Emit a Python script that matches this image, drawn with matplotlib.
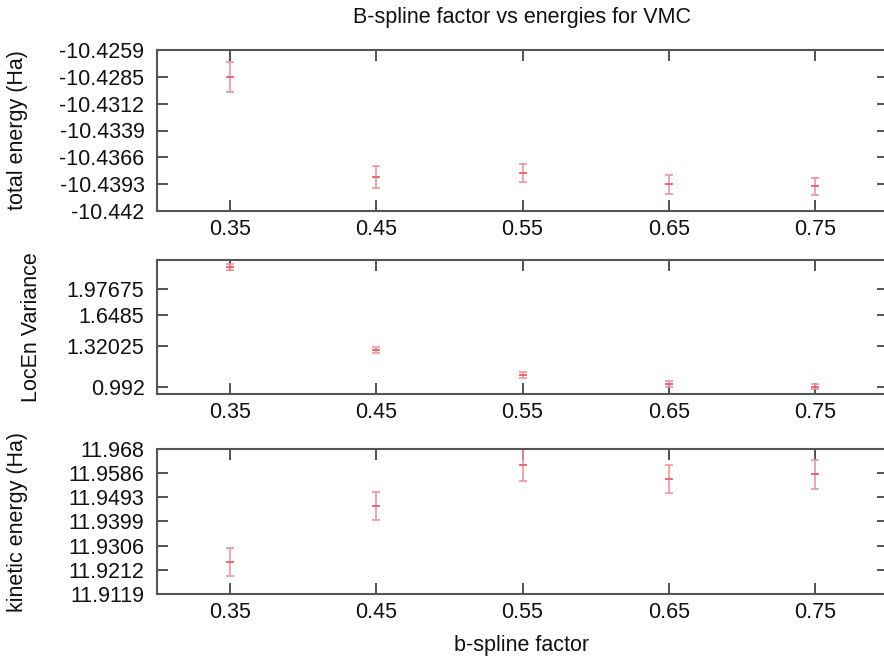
import numpy as np
import matplotlib
matplotlib.use('Agg')
import matplotlib.pyplot as plt

plt.rcParams['font.family'] = ['Liberation Sans', 'DejaVu Sans']

# b-spline factors
factor = [0.35, 0.45, 0.55, 0.65, 0.75]
factor_labels = ['0.35', '0.45', '0.55', '0.65', '0.75']

# total energy (Ha) and errors
total_e = [-10.4286, -10.4386, -10.4382, -10.4393, -10.4395]
total_err = [0.0015, 0.0011, 0.0009, 0.00095, 0.00085]
total_ticks = ['-10.442', '-10.4393', '-10.4366', '-10.4339', '-10.4312', '-10.4285', '-10.4259']

# local energy variance
var_e = [2.30, 1.285, 1.077, 1.011, 0.992]
var_err = [0.045, 0.028, 0.022, 0.02, 0.018]
var_ticks = ['0.992', '1.32025', '1.6485', '1.97675']

# kinetic energy (Ha) and errors
kin_e = [11.9242, 11.9459, 11.9618, 11.9565, 11.9582]
kin_err = [0.0055, 0.0054, 0.0061, 0.0055, 0.0056]
kin_ticks = ['11.9119', '11.9212', '11.9306', '11.9399', '11.9493', '11.9586', '11.968']

W, H = 884, 657
fig = plt.figure(figsize=(W / 100, H / 100), dpi=100)

def px_axes(top, bottom, left=157, right=888):
    return fig.add_axes([left / W, 1 - bottom / H, (right - left) / W, (bottom - top) / H])

ax1 = px_axes(50, 211)
ax2 = px_axes(260, 394)
ax3 = px_axes(449, 594)

bar_color = '#f0939a'
mid_color = '#e5606a'
FS = 15.5

def draw(ax, y, err):
    ax.errorbar(factor, y, yerr=err, fmt='none', ecolor=bar_color, elinewidth=1.2,
                capsize=2.6, capthick=1.2)
    ax.plot(factor, y, linestyle='none', marker='_', markersize=5.5,
            markeredgewidth=1.3, color=mid_color)
    ax.set_xlim(0.3, 0.8)
    ax.set_xticks(factor)
    ax.set_xticklabels(factor_labels)
    for s in ax.spines.values():
        s.set_color('#555555')
        s.set_linewidth(1.5)
    ax.tick_params(direction='in', length=8, width=1.3, color='#444444',
                   top=True, right=True, labelsize=FS, labelcolor='#111111')
    ax.tick_params(axis='x', pad=6)
    ax.tick_params(axis='y', pad=9)

draw(ax1, total_e, total_err)
ax1.set_ylim(-10.442, -10.4259)
ax1.set_yticks(np.linspace(-10.442, -10.4259, 7))
ax1.set_yticklabels(total_ticks)

draw(ax2, var_e, var_err)
ax2.set_yscale('log')
ax2.set_ylim(0.942, 2.42)
ax2.set_yticks([float(v) for v in var_ticks])
ax2.set_yticklabels(var_ticks)
ax2.yaxis.set_minor_locator(matplotlib.ticker.NullLocator())

draw(ax3, kin_e, kin_err)
ax3.set_ylim(11.9119, 11.968)
ax3.set_yticks(np.linspace(11.9119, 11.968, 7))
ax3.set_yticklabels(kin_ticks)

fig.text(522 / W, 1 - 17 / H, 'B-spline factor vs energies for VMC', ha='center', va='center',
         fontsize=FS, color='#111111')
fig.text(18 / W, 1 - 130 / H, 'total energy (Ha)', rotation=90, ha='center', va='center',
         fontsize=FS, color='#111111')
fig.text(32 / W, 1 - 327 / H, 'LocEn Variance', rotation=90, ha='center', va='center',
         fontsize=FS, color='#111111')
fig.text(18 / W, 1 - 522 / H, 'kinetic energy (Ha)', rotation=90, ha='center', va='center',
         fontsize=FS, color='#111111')
fig.text(522 / W, 1 - 645 / H, 'b-spline factor', ha='center', va='center',
         fontsize=FS, color='#111111')

fig.savefig('out.png', dpi=100)
